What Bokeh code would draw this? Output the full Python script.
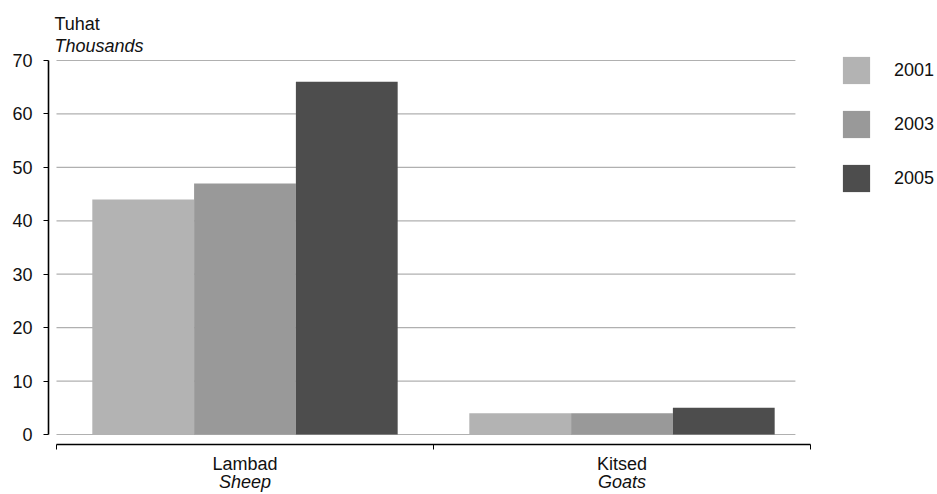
from bokeh.plotting import figure
from bokeh.models import (Range1d, LinearAxis, FixedTicker, Legend, LegendItem,
                          Title, ColumnDataSource)
from bokeh.embed import file_html
from bokeh.resources import INLINE

# ---- data ----
categories = ["Lambad", "Kitsed"]
categories_en = ["Sheep", "Goats"]
years = ["2001", "2003", "2005"]
values_2001 = [44, 4]
values_2003 = [47, 4]
values_2005 = [66, 5]
y_ticks = [0, 10, 20, 30, 40, 50, 60, 70]

series = [values_2001, values_2003, values_2005]
colors = ["#b3b3b3", "#999999", "#4d4d4d"]
offsets = [-0.27, 0.0, 0.27]
BAR_W = 0.27

FONT = "Liberation Sans"
FS = "18px"
TXT = "#111111"

n = len(categories)
group_pos = [i + 0.5 for i in range(n)]

p = figure(width=937, height=494, output_backend="svg", toolbar_location=None,
           x_range=Range1d(-0.0212, 2.3369), y_range=Range1d(-1.872, 71.497),
           x_axis_type=None, y_axis_type=None,
           min_border_left=48, min_border_right=0, min_border_top=52, min_border_bottom=0)
p.grid.visible = False
p.outline_line_color = None
p.background_fill_color = "white"
p.border_fill_color = "white"

# gridlines (stop short of the axis end, as in the reference)
p.segment(x0=[0] * len(y_ticks), x1=[n * 0.98] * len(y_ticks), y0=y_ticks, y1=y_ticks,
          line_color="#b0b0b0", line_width=1.2)

# bars
items = []
for yr, vals, c, off in zip(years, series, colors, offsets):
    src = ColumnDataSource(dict(x=[g + off for g in group_pos], top=vals))
    r = p.vbar(x="x", top="top", bottom=0, width=BAR_W, source=src,
               fill_color=c, line_color=None)
    items.append(LegendItem(label=yr, renderers=[r]))

# y axis
yaxis = LinearAxis(ticker=FixedTicker(ticks=y_ticks, minor_ticks=[]), bounds=(0, y_ticks[-1]))
yaxis.axis_line_width = 1.6
yaxis.axis_line_color = "black"
yaxis.major_tick_in = 0
yaxis.major_tick_out = 5
yaxis.major_tick_line_color = "black"
yaxis.minor_tick_out = 0
yaxis.minor_tick_in = 0
yaxis.major_label_standoff = 11
yaxis.major_label_text_font = FONT
yaxis.major_label_text_font_size = FS
yaxis.major_label_text_color = TXT
p.add_layout(yaxis, "left")

# x axis: line, boundary ticks, local labels
xaxis = LinearAxis(ticker=FixedTicker(ticks=group_pos, minor_ticks=list(range(n + 1))),
                   bounds=(0, n))
xaxis.axis_line_width = 1.6
xaxis.axis_line_color = "black"
xaxis.major_tick_in = 0
xaxis.major_tick_out = 0
xaxis.minor_tick_in = 0
xaxis.minor_tick_out = 5
xaxis.minor_tick_line_color = "black"
xaxis.major_label_overrides = {g: c for g, c in zip(group_pos, categories)}
xaxis.major_label_standoff = 4
xaxis.major_label_text_font = FONT
xaxis.major_label_text_font_size = FS
xaxis.major_label_text_color = TXT
p.add_layout(xaxis, "below")

# second row of x labels (English, italic)
xaxis2 = LinearAxis(ticker=FixedTicker(ticks=group_pos, minor_ticks=[]), bounds=(0, n))
xaxis2.axis_line_color = None
xaxis2.major_tick_line_color = None
xaxis2.minor_tick_line_color = None
xaxis2.major_tick_out = 0
xaxis2.major_tick_in = 0
xaxis2.minor_tick_out = 0
xaxis2.major_label_overrides = {g: c for g, c in zip(group_pos, categories_en)}
xaxis2.major_label_standoff = -5
xaxis2.major_label_text_font = FONT
xaxis2.major_label_text_font_size = FS
xaxis2.major_label_text_font_style = "italic"
xaxis2.major_label_text_color = TXT
p.add_layout(xaxis2, "below")

# titles (unit)
t2 = Title(text="Thousands", align="left", offset=6, text_font=FONT, text_font_size=FS,
           text_font_style="italic", text_color=TXT, standoff=-6)
t1 = Title(text="Tuhat", align="left", offset=6, text_font=FONT, text_font_size=FS,
           text_font_style="normal", text_color=TXT, standoff=5)
p.add_layout(t2, "above")
p.add_layout(t1, "above")

legend = Legend(items=items, location=(791, 249), orientation="vertical")
legend.margin = 0
legend.padding = 0
legend.spacing = 20
legend.glyph_width = 34
legend.glyph_height = 34
legend.label_height = 34
legend.label_standoff = 21
legend.label_text_font = FONT
legend.label_text_font_size = FS
legend.label_text_color = TXT
legend.border_line_color = None
legend.background_fill_alpha = 0
p.add_layout(legend, "center")

open("out.html", "w").write(file_html(p, INLINE))
